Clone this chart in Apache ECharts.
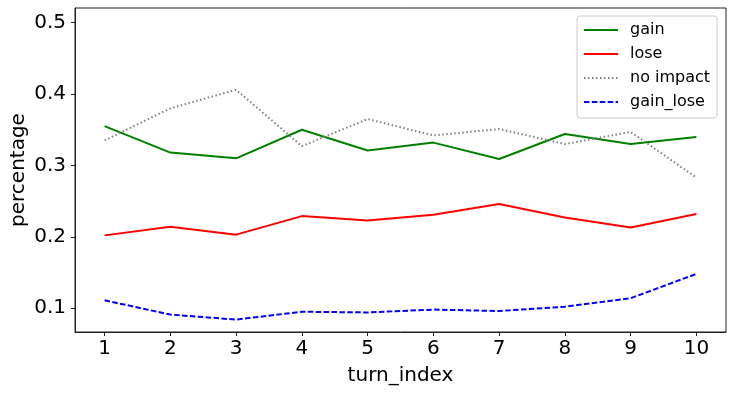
<!DOCTYPE html>
<html>
<head>
<meta charset="utf-8">
<script src="https://cdn.jsdelivr.net/npm/echarts@6/dist/echarts.min.js"></script>
<style>html,body{margin:0;padding:0;background:#fff;}#c{width:734px;height:394px;}</style>
</head>
<body>
<div id="c"></div>
<script>
const turnIndex = [1, 2, 3, 4, 5, 6, 7, 8, 9, 10];
const gain = [0.355, 0.318, 0.310, 0.350, 0.321, 0.332, 0.309, 0.344, 0.330, 0.340];
const lose = [0.202, 0.214, 0.203, 0.229, 0.223, 0.231, 0.246, 0.227, 0.213, 0.232];
const noImpact = [0.335, 0.380, 0.406, 0.327, 0.365, 0.342, 0.351, 0.330, 0.347, 0.283];
const gainLose = [0.111, 0.091, 0.084, 0.095, 0.094, 0.098, 0.096, 0.102, 0.114, 0.148];
const yTicks = [0.1, 0.2, 0.3, 0.4, 0.5];
const xTicks = [1, 2, 3, 4, 5, 6, 7, 8, 9, 10];

const FONT = 'DejaVu Sans';
const pairs = arr => turnIndex.map((x, i) => [x, arr[i]]);

const chart = echarts.init(document.getElementById('c'), null, {renderer: 'canvas'});
function mk(name, data, color, type) {
  return {
    name, type: 'line', data: pairs(data), showSymbol: false, symbol: 'none',
    lineStyle: {color, width: 2, type},
    itemStyle: {color},
    animation: false
  };
}
chart.setOption({
  animation: false,
  grid: {left: 75, right: 8, top: 8, bottom: 62, show: true, borderColor: '#222', borderWidth: 1,
    containLabel: false, outerBoundsMode: 'none'},
  xAxis: {
    type: 'value', min: 0.55, max: 10.45,
    name: 'turn_index', nameLocation: 'middle', nameGap: 34, nameMoveOverlap: false,
    nameTextStyle: {fontFamily: FONT, fontSize: 20, color: '#000'},
    axisLine: {show: true, lineStyle: {color: '#222'}},
    axisTick: {show: true, length: 4, lineStyle: {color: '#222'}, customValues: xTicks},
    axisLabel: {customValues: xTicks, fontFamily: FONT, fontSize: 20, color: '#000', margin: 7},
    splitLine: {show: false}
  },
  yAxis: {
    type: 'value', min: 0.0666, max: 0.5206,
    name: 'percentage', nameLocation: 'middle', nameGap: 46, nameMoveOverlap: false,
    nameTextStyle: {fontFamily: FONT, fontSize: 20, color: '#000'},
    axisLine: {show: true, lineStyle: {color: '#222'}},
    axisTick: {show: true, length: 4, lineStyle: {color: '#222'}, customValues: yTicks},
    axisLabel: {customValues: yTicks, fontFamily: FONT, fontSize: 20, color: '#000', margin: 9,
      formatter: v => v.toFixed(1)},
    splitLine: {show: false}
  },
  legend: {
    orient: 'vertical', left: 577, top: 16,
    padding: [4, 7, 6, 6],
    borderColor: '#cccccc', borderWidth: 1, borderRadius: 3,
    backgroundColor: 'rgba(255,255,255,0.8)',
    itemWidth: 34, itemHeight: 14, itemGap: 4,
    itemStyle: {opacity: 0},
    textStyle: {fontFamily: FONT, fontSize: 16, color: '#000', lineHeight: 20, padding: [0, 0, 0, 7]},
    data: ['gain', 'lose', 'no impact', 'gain_lose']
  },
  series: [
    mk('gain', gain, '#008000', 'solid'),
    mk('lose', lose, '#ff0000', 'solid'),
    mk('no impact', noImpact, '#808080', [1.5, 2.5]),
    mk('gain_lose', gainLose, '#0000ff', [5.5, 2.4])
  ]
});
</script>
</body>
</html>
